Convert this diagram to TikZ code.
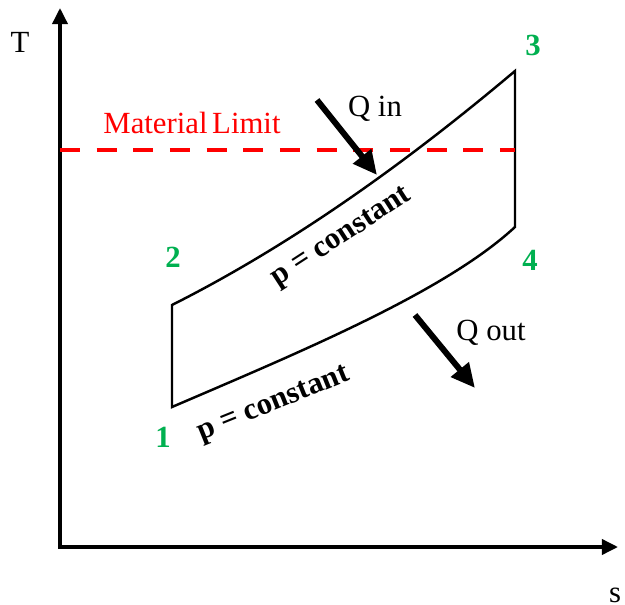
\documentclass[tikz,border=0pt]{standalone}
\usepackage{fontspec}
\setmainfont{Liberation Serif}
\usetikzlibrary{arrows.meta}
\definecolor{stategreen}{RGB}{0,176,80}
\tikzset{
  axisarrow/.style={{Triangle[length=3.2mm, width=3mm]}-{Triangle[length=3.2mm, width=3mm]}, line width=2pt},
  cycleline/.style={line width=1.4pt, line join=miter},
  heatarrow/.style={-{Triangle[length=4.8mm, width=4.4mm]}, line width=3.4pt},
  limitline/.style={red, line width=2.8pt, dash pattern=on 4mm off 3.33mm},
  plainlabel/.style={font=\fontsize{17.5}{21}\selectfont, anchor=base, inner sep=0pt},
  statelabel/.style={font=\bfseries\fontsize{17.5}{21}\selectfont, text=stategreen, anchor=base, inner sep=0pt},
  isobarlabel/.style={font=\bfseries\fontsize{17.5}{21}\selectfont, inner sep=0pt}
}

\begin{document}
\begin{tikzpicture}[x=0.2mm, y=-0.2mm]
      \useasboundingbox (0,0) rectangle (625,605);
      % axes
      \coordinate (O) at (60,547);
      \coordinate (Ttip) at (60,8);
      \coordinate (stip) at (618,547);
      \draw[axisarrow] (Ttip) -- (O) -- (stip);
      \node[plainlabel] (Tlab) at (20,52) {T};
      \node[plainlabel] (slab) at (615,602) {s};
      % cycle states
      \coordinate (p1) at (172,407);
      \coordinate (p2) at (172,305);
      \coordinate (p3) at (515,71);
      \coordinate (p4) at (515,227);
      \draw[cycleline] (p1) -- (p2) .. controls (287,247) and (400,168) .. (p3)
        -- (p4) .. controls (445,292) and (300,352) .. (p1) -- cycle;
      \node[statelabel] (s1) at (163,447) {1};
      \node[statelabel] (s2) at (173,267) {2};
      \node[statelabel] (s3) at (533,55) {3};
      \node[statelabel] (s4) at (530,270) {4};
      \node[isobarlabel, rotate=33] (hiP) at (342,238) {p = constant};
      \node[isobarlabel, rotate=22] (loP) at (274,405) {p = constant};
      % material limit
      \coordinate (limL) at (60,150);
      \coordinate (limR) at (515,150);
      \draw[limitline] (limL) -- (limR);
      \node[plainlabel, text=red] (limlab) at (192,133) {Material\hspace{0.15em}Limit};
      % heat flows
      \coordinate (qinA) at (317,100);
      \coordinate (qinB) at (377,175);
      \coordinate (qoutA) at (415,315);
      \coordinate (qoutB) at (475,388);
      \draw[heatarrow] (qinA) -- (qinB);
      \draw[heatarrow] (qoutA) -- (qoutB);
      \node[plainlabel] (qinlab) at (375,116) {Q in};
      \node[plainlabel] (qoutlab) at (491,340) {Q out};
    \end{tikzpicture}
\end{document}
